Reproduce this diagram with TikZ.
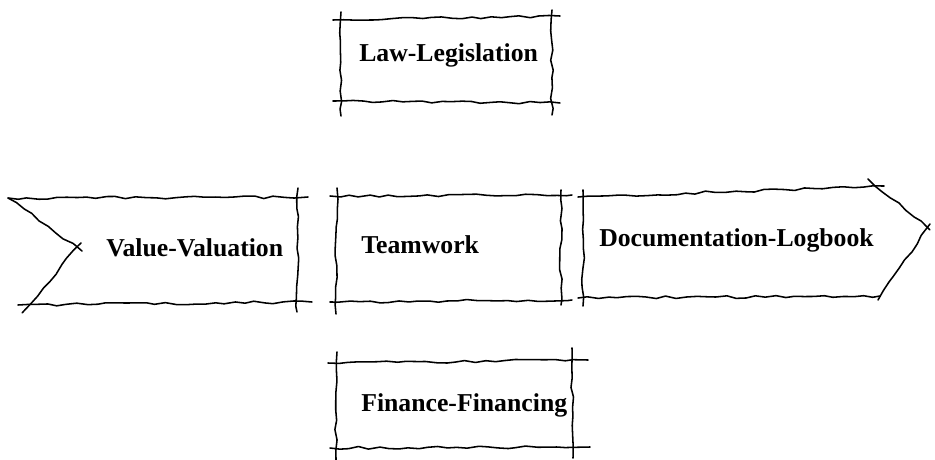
\documentclass[tikz,border=0pt]{standalone}
\usepackage{fontspec}
\setmainfont{Liberation Serif}
\usetikzlibrary{decorations.pathmorphing}

\tikzset{
  sketch/.style={draw=black, line width=1.1pt, line cap=round, line join=round,
    decorate, decoration={random steps, segment length=7pt, amplitude=1pt}},
  boxtext/.style={anchor=west, inner sep=0pt, font=\fontsize{18.3}{21}\selectfont\bfseries}
}

\begin{document}
\begin{tikzpicture}[x=0.025cm, y=-0.025cm]
  \pgfmathsetseed{11}
  \useasboundingbox (0,0) rectangle (935,460);

  %--- Law ---
  \node[boxtext] (law) at (359,55) {Law-Legislation};
  \draw[sketch] (333,20) -- (560,16);
  \draw[sketch] (333,101) -- (560,103);
  \draw[sketch] (341,12) -- (341,116);
  \draw[sketch] (552,10) -- (552,115);

  %--- Value (notched tail) ---
  \node[boxtext] (value) at (106,248) {Value-Valuation};
  \draw[sketch] (8,198) -- (308,197);
  \draw[sketch] (18,305) -- (312,302);
  \draw[sketch] (298,188) -- (297,312);
  \draw[sketch] (8,198) -- (82,251);
  \draw[sketch] (81,243) -- (22,313);

  %--- Teamwork ---
  \node[boxtext] (team) at (361,245) {Teamwork};
  \draw[sketch] (330,196) -- (572,195);
  \draw[sketch] (330,302) -- (572,300);
  \draw[sketch] (337,188) -- (336,314);
  \draw[sketch] (561,190) -- (561,305);

  %--- Documentation (arrow head) ---
  \node[boxtext] (docu) at (599,240) {Documentation-Logbook};
  \draw[sketch] (583,190) -- (583,306);
  \draw[sketch] (578,197) -- (884,186);
  \draw[sketch] (578,298) -- (880,296);
  \draw[sketch] (868,179) -- (930,230);
  \draw[sketch] (878,300) -- (930,224);

  %--- Finance ---
  \node[boxtext] (fin) at (361,405) {Finance-Financing};
  \draw[sketch] (328,363) -- (588,360);
  \draw[sketch] (330,448) -- (590,447);
  \draw[sketch] (337,352) -- (336,460);
  \draw[sketch] (572,348) -- (573,458);
\end{tikzpicture}
\end{document}
